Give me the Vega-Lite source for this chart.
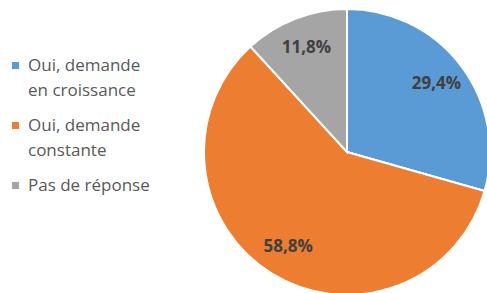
{
  "$schema": "https://vega.github.io/schema/vega-lite/v6.json",
  "width": 286,
  "height": 286,
  "autosize": "none",
  "padding": {"left": 204, "top": 9, "right": 0, "bottom": 0},
  "background": "white",
  "config": {"view": {"stroke": null}, "style": {"guide-label": {"lineHeight": 25}}},
  "data": {
    "values": [
      {"cat": "Oui, demande|en croissance", "pct": 29.4, "rank": 1, "label": "29,4%"},
      {"cat": "Oui, demande|constante", "pct": 58.8, "rank": 2, "label": "58,8%"},
      {"cat": "Pas de réponse", "pct": 11.8, "rank": 3, "label": "11,8%"}
    ]
  },
  "encoding": {
    "theta": {"field": "pct", "type": "quantitative", "stack": true},
    "order": {"field": "rank", "type": "quantitative"}
  },
  "layer": [
    {
      "mark": {"type": "arc", "outerRadius": 143, "stroke": "white", "strokeWidth": 2},
      "encoding": {
        "color": {
          "field": "cat",
          "type": "nominal",
          "sort": ["Oui, demande|en croissance", "Oui, demande|constante", "Pas de réponse"],
          "scale": {
            "domain": ["Oui, demande|en croissance", "Oui, demande|constante", "Pas de réponse"],
            "range": ["#5B9BD5", "#ED7D31", "#A5A5A5"]
          },
          "legend": {
            "orient": "none",
            "legendX": -197,
            "legendY": 48,
            "title": null,
            "symbolType": "square",
            "symbolSize": 50,
            "symbolStrokeWidth": 0,
            "labelExpr": "split(datum.label, '|')",
            "labelFont": "Open Sans",
            "labelFontSize": 17,
            "labelColor": "#595959",
            "labelLimit": 300,
            "rowPadding": 17,
            "labelOffset": 4
          }
        }
      }
    },
    {
      "mark": {"type": "text", "radius": 112, "font": "Open Sans", "fontWeight": "bold", "fontSize": 17, "color": "#404040"},
      "encoding": {"text": {"field": "label", "type": "nominal"}}
    }
  ]
}
